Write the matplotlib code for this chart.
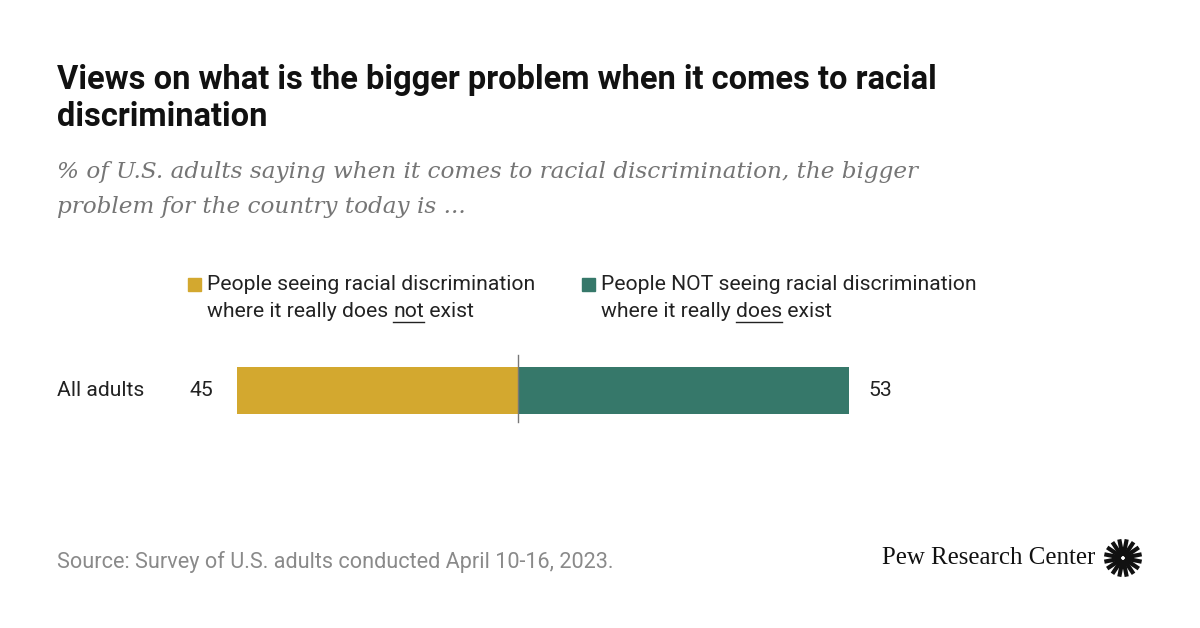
import numpy as np
import matplotlib.pyplot as plt

categories = ['All adults']
not_exist = [45]
does_exist = [53]
legend_labels = [['People seeing racial discrimination', 'where it really does ', 'not', ' exist'],
                 ['People NOT seeing racial discrimination', 'where it really ', 'does', ' exist']]
colors = ['#D3A82F', '#36786A']

W, H = 1200, 628
fig = plt.figure(figsize=(12, 6.28), dpi=100)
fig.patch.set_facecolor('white')

def fx(px):
    return px / W

def fy(py):
    return 1 - py / H

sans = ['Roboto', 'DejaVu Sans']
serif = ['DejaVu Serif']
fs = 15.2

# title and subtitle
fig.text(fx(57), fy(80), 'Views on what is the bigger problem when it comes to racial',
         fontsize=23.5, fontweight='bold', family=sans, va='center', color='#111111')
fig.text(fx(57), fy(117), 'discrimination',
         fontsize=23.5, fontweight='bold', family=sans, va='center', color='#111111')
fig.text(fx(57), fy(172), '% of U.S. adults saying when it comes to racial discrimination, the bigger',
         fontsize=16.7, style='italic', family=serif, va='center', color='#757575')
fig.text(fx(57), fy(207), 'problem for the country today is ...',
         fontsize=16.7, style='italic', family=serif, va='center', color='#757575')

# bar axes
ax = fig.add_axes([fx(237), fy(440), fx(849) - fx(237), 100 / H])
ax.set_xlim(-not_exist[0], does_exist[0])
ax.set_ylim(-50, 50)
ax.axis('off')
y = np.arange(len(categories))
ax.barh(y, [-v for v in not_exist], height=47, color=colors[0], left=0)
ax.barh(y, does_exist, height=47, color=colors[1], left=0)
ax.axvline(0, ymin=(50 - 32) / 100, ymax=(50 + 35) / 100, color='#777777', lw=1)

for i, cat in enumerate(categories):
    ax.text(-not_exist[i] - 24 / 6.25, y[i], str(not_exist[i]), ha='right', va='center',
            fontsize=fs, family=sans, color='#222222')
    ax.text(does_exist[i] + 19 / 6.25, y[i], str(does_exist[i]), ha='left', va='center',
            fontsize=fs, family=sans, color='#222222')
    fig.text(fx(57), fy(390), cat, ha='left', va='center', fontsize=fs, family=sans, color='#222222')

# legend
renderer = fig.canvas.get_renderer()
leg_x = [188, 582]
for k, lab in enumerate(legend_labels):
    x0 = leg_x[k]
    fig.patches.append(plt.Rectangle((fx(x0), fy(291)), 13 / W, 13 / H, transform=fig.transFigure,
                                     color=colors[k]))
    fig.text(fx(x0 + 19), fy(285), lab[0], ha='left', va='center', fontsize=fs, family=sans,
             color='#222222')
    xx = x0 + 19
    for j, piece in enumerate(lab[1:]):
        t = fig.text(fx(xx), fy(311), piece, ha='left', va='center', fontsize=fs, family=sans,
                     color='#222222')
        bb = t.get_window_extent(renderer)
        if j == 1:
            fig.add_artist(plt.Line2D([fx(xx), fx(xx + bb.width)], [fy(322), fy(322)],
                                      transform=fig.transFigure, color='#222222', lw=1))
        xx += bb.width

# footer
fig.text(fx(57), fy(562), 'Source: Survey of U.S. adults conducted April 10-16, 2023.',
         fontsize=15.6, family=sans, va='center', color='#8a8a8a')
fig.text(fx(1095), fy(558), 'Pew Research Center', fontsize=17.9, family=['Liberation Serif'],
         ha='right', va='center', color='#111111')

# logo burst
cx, cy, r = 1123, 558, 19
for a in np.linspace(0, 2 * np.pi, 16, endpoint=False) + np.pi / 16:
    fig.add_artist(plt.Line2D([fx(cx + 2 * np.cos(a)), fx(cx + r * np.cos(a))],
                              [fy(cy + 2 * np.sin(a)), fy(cy + r * np.sin(a))],
                              transform=fig.transFigure, color='#111111', lw=3.0,
                              solid_capstyle='butt'))

fig.savefig('out.png', dpi=100, facecolor='white')
